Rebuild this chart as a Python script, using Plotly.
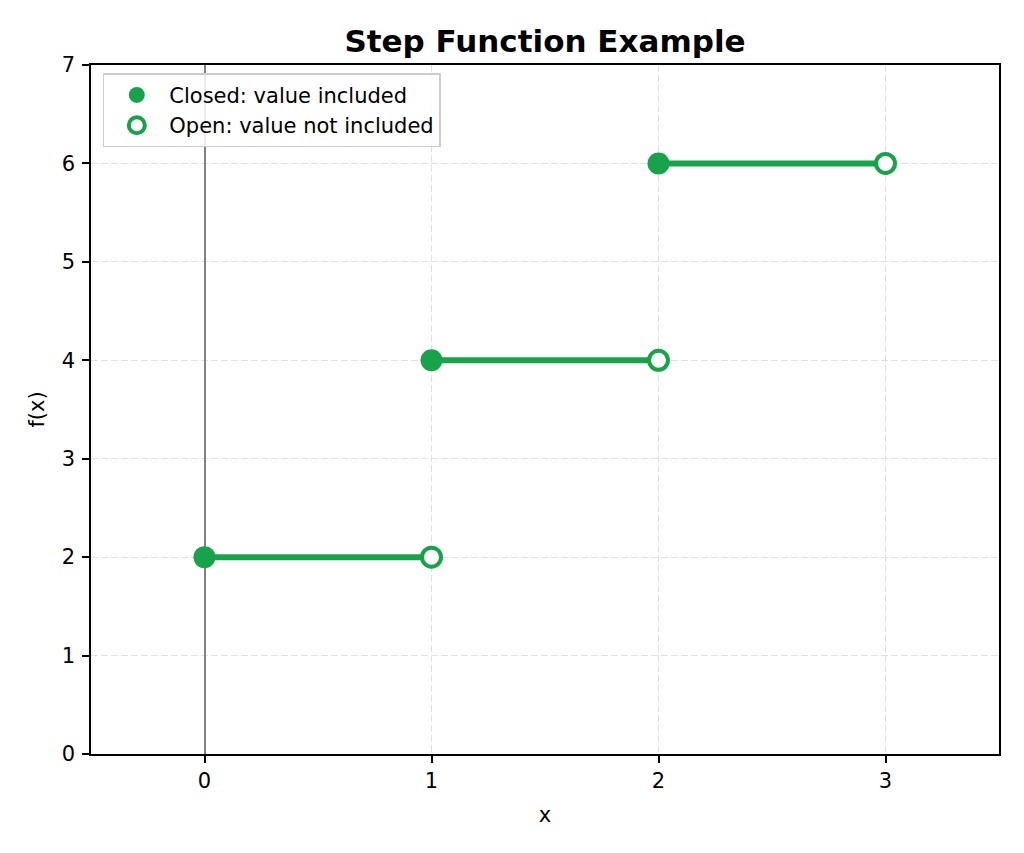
import plotly.graph_objects as go

# step function pieces: [start, end) -> value
x_start = [0, 1, 2]
x_end = [1, 2, 3]
y_vals = [2, 4, 6]

GREEN = "#16a34a"
FONT = "DejaVu Sans"

# segments joined with None gaps
seg_x, seg_y = [], []
for a, b, v in zip(x_start, x_end, y_vals):
    seg_x += [a, b, None]
    seg_y += [v, v, None]

fig = go.Figure()

fig.add_trace(go.Scatter(
    x=seg_x, y=seg_y, mode="lines",
    line=dict(color=GREEN, width=6),
    showlegend=False, hoverinfo="skip"
))

fig.add_trace(go.Scatter(
    x=x_start, y=y_vals, mode="markers",
    name="Closed: value included",
    marker=dict(color=GREEN, size=22, line=dict(color=GREEN, width=0))
))

fig.add_trace(go.Scatter(
    x=x_end, y=y_vals, mode="markers",
    name="Open: value not included",
    marker=dict(color="white", size=19, line=dict(color=GREEN, width=4))
))

axis_common = dict(
    showline=True, linecolor="black", linewidth=1.5, mirror=True,
    ticks="outside", ticklen=7, tickwidth=1.5, tickcolor="black",
    showgrid=True, gridcolor="#e0e0e0", griddash="7px,3px", gridwidth=1.4,
    tickfont=dict(family=FONT, size=21, color="black"),
    title_font=dict(family=FONT, size=21, color="black"),
)

fig.update_xaxes(
    range=[-0.5, 3.5], tickvals=[0, 1, 2, 3], title_text="x",
    zeroline=True, zerolinecolor="#808080", zerolinewidth=1.8,
    title_standoff=15, **axis_common
)
fig.update_yaxes(
    range=[0, 7], dtick=1, title_text="f(x)", zeroline=False,
    ticklabelstandoff=3, title_standoff=11, **axis_common
)

fig.update_layout(
    width=1017, height=846,
    margin=dict(l=83, r=26, t=57, b=100),
    plot_bgcolor="white", paper_bgcolor="white",
    title=dict(text="<b>Step Function Example</b>", x=0.5, xref="paper",
               y=0.961, yanchor="middle",
               font=dict(family=FONT, size=31, color="black")),
    legend=dict(x=0.013, y=0.988, xanchor="left", yanchor="top",
                bgcolor="rgba(255,255,255,0.85)", bordercolor="#cccccc",
                borderwidth=1.5, font=dict(family=FONT, size=21, color="black"),
                itemwidth=55),
    showlegend=True,
)

fig.write_html("out.html")
